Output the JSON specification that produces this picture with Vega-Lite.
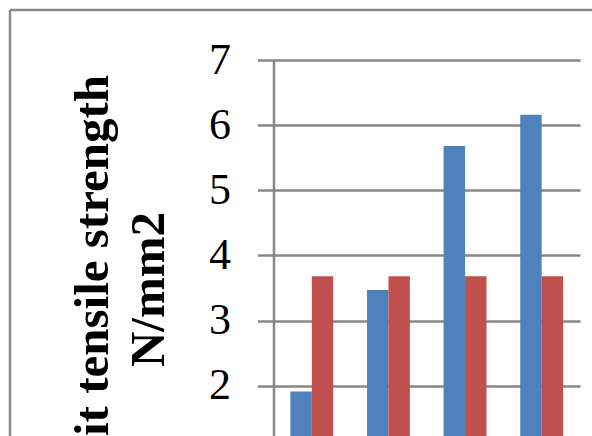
{
  "$schema": "https://vega.github.io/schema/vega-lite/v6.json",
  "autosize": {"type": "none"},
  "padding": {"left": 10, "top": 10, "right": 0, "bottom": 0},
  "width": 582,
  "height": 426,
  "background": "white",
  "config": {
    "view": {"stroke": "#898989", "strokeWidth": 2.5, "strokeDash": [582, 1008, 426, 0]}
  },
  "data": {
    "values": [
      {"cat": "C1", "series": "Series1", "value": 1.91},
      {"cat": "C1", "series": "Series2", "value": 3.68},
      {"cat": "C2", "series": "Series1", "value": 3.47},
      {"cat": "C2", "series": "Series2", "value": 3.68},
      {"cat": "C3", "series": "Series1", "value": 5.68},
      {"cat": "C3", "series": "Series2", "value": 3.68},
      {"cat": "C4", "series": "Series1", "value": 6.16},
      {"cat": "C4", "series": "Series2", "value": 3.68}
    ]
  },
  "mark": {"type": "bar", "clip": true},
  "encoding": {
    "x": {
      "field": "cat",
      "type": "nominal",
      "sort": ["C1", "C2", "C3", "C4"],
      "scale": {"range": [263.5, 570], "paddingInner": 0.44, "paddingOuter": 0.22},
      "axis": null
    },
    "xOffset": {
      "field": "series",
      "type": "nominal",
      "sort": ["Series1", "Series2"],
      "scale": {"paddingInner": 0, "paddingOuter": 0}
    },
    "y": {
      "field": "value",
      "type": "quantitative",
      "scale": {"domain": [1.228, 7], "range": [426, 50], "nice": false, "zero": false},
      "axis": {
        "offset": -263.5,
        "values": [2, 3, 4, 5, 6, 7],
        "grid": true,
        "gridColor": "#878787",
        "gridWidth": 2.5,
        "gridOpacity": 1,
        "domainColor": "#878787",
        "domainWidth": 2.5,
        "tickColor": "#878787",
        "tickWidth": 2.5,
        "tickSize": 16,
        "labelFont": "Liberation Serif",
        "labelFontSize": 44,
        "labelColor": "#000000",
        "labelPadding": 27,
        "title": ["Split tensile strength", "N/mm2"],
        "titleFont": "Liberation Serif",
        "titleFontSize": 49,
        "titleFontWeight": "bold",
        "titleColor": "#000000",
        "titleAngle": -90,
        "titleAlign": "center",
        "titleBaseline": "alphabetic",
        "titleLineHeight": 56,
        "titleX": -166,
        "titleY": 279
      }
    },
    "color": {
      "field": "series",
      "type": "nominal",
      "scale": {"domain": ["Series1", "Series2"], "range": ["#4F81BD", "#C0504D"]},
      "legend": null
    }
  }
}
